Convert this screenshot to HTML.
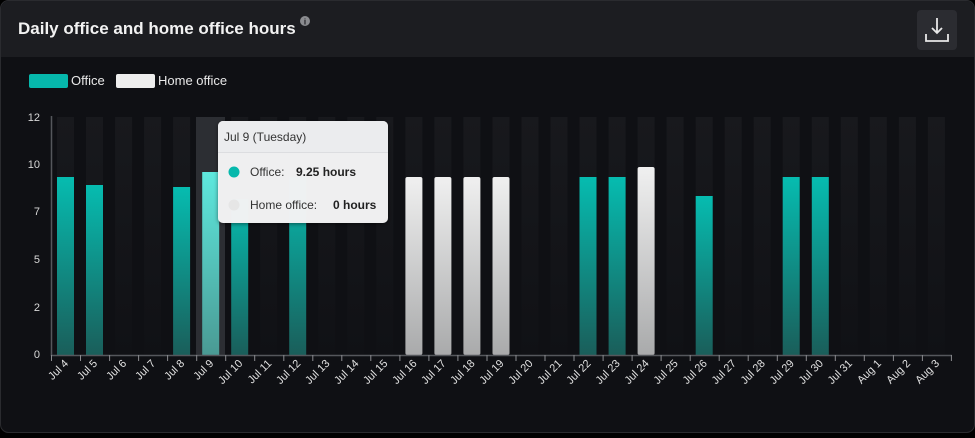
<!DOCTYPE html>
<html><head><meta charset="utf-8"><style>
body{margin:0;background:#000;width:975px;height:433px;overflow:hidden;font-family:"Liberation Sans",sans-serif}
</style></head><body>
<svg width="975" height="433" xmlns="http://www.w3.org/2000/svg" font-family="Liberation Sans, sans-serif">
<defs>
<linearGradient id="g" x1="0" y1="0" x2="0" y2="1"><stop offset="0" stop-color="#06bcb0"/><stop offset="1" stop-color="#1a5e5a"/></linearGradient>
<linearGradient id="gh" x1="0" y1="0" x2="0" y2="1"><stop offset="0" stop-color="#5ee9de"/><stop offset="1" stop-color="#4a9a94"/></linearGradient>
<linearGradient id="w" x1="0" y1="0" x2="0" y2="1"><stop offset="0" stop-color="#f0f0f0"/><stop offset="1" stop-color="#a9aaab"/></linearGradient>
<linearGradient id="bg" x1="0" y1="0" x2="0" y2="1"><stop offset="0" stop-color="#18191d"/><stop offset="1" stop-color="#101115"/></linearGradient>
<filter id="sh"><feDropShadow dx="0" dy="1" stdDeviation="2" flood-color="#000" flood-opacity="0.5"/></filter>
</defs>
<rect x="0.5" y="0.5" width="974" height="432" rx="8" fill="#0f1014" stroke="#2a2b2f"/>
<path d="M1 57 V9 a8 8 0 0 1 8 -8 H966 a8 8 0 0 1 8 8 V57 Z" fill="#1c1d21"/>
<text x="18" y="34" fill="#f2f2f2" font-size="17" font-weight="bold">Daily office and home office hours</text>
<circle cx="305" cy="21" r="5" fill="#8a8b8f"/><text x="305" y="24.5" fill="#1c1d21" font-size="8" font-weight="bold" text-anchor="middle">i</text>
<rect x="917" y="10" width="40" height="40" rx="4" fill="#2b2c31"/>
<path d="M937 18 V33 M932 28 L937 33 L942 28 M926 34 V41 H948 V34" stroke="#e8e8e8" stroke-width="1.8" fill="none"/>
<rect x="29" y="74" width="39" height="14" rx="2" fill="#06b8ac"/>
<text x="71" y="85" fill="#e8e8e8" font-size="13">Office</text>
<rect x="116" y="74" width="39" height="14" rx="2" fill="#eeeeee"/>
<text x="158" y="85" fill="#e8e8e8" font-size="13">Home office</text>
<g fill="url(#bg)">
<rect x="57" y="117" width="17" height="238"/><rect x="86" y="117" width="17" height="238"/><rect x="115.1" y="117" width="17" height="238"/><rect x="144.1" y="117" width="17" height="238"/><rect x="173.1" y="117" width="17" height="238"/><rect x="231.2" y="117" width="17" height="238"/><rect x="260.2" y="117" width="17" height="238"/><rect x="289.2" y="117" width="17" height="238"/><rect x="318.3" y="117" width="17" height="238"/><rect x="347.3" y="117" width="17" height="238"/><rect x="376.3" y="117" width="17" height="238"/><rect x="405.4" y="117" width="17" height="238"/><rect x="434.4" y="117" width="17" height="238"/><rect x="463.4" y="117" width="17" height="238"/><rect x="492.5" y="117" width="17" height="238"/><rect x="521.5" y="117" width="17" height="238"/><rect x="550.5" y="117" width="17" height="238"/><rect x="579.5" y="117" width="17" height="238"/><rect x="608.6" y="117" width="17" height="238"/><rect x="637.6" y="117" width="17" height="238"/><rect x="666.6" y="117" width="17" height="238"/><rect x="695.7" y="117" width="17" height="238"/><rect x="724.7" y="117" width="17" height="238"/><rect x="753.7" y="117" width="17" height="238"/><rect x="782.7" y="117" width="17" height="238"/><rect x="811.8" y="117" width="17" height="238"/><rect x="840.8" y="117" width="17" height="238"/><rect x="869.8" y="117" width="17" height="238"/><rect x="898.9" y="117" width="17" height="238"/><rect x="927.9" y="117" width="17" height="238"/>
</g>
<rect x="196" y="117" width="29" height="238" fill="#2c2e33"/>
<g fill="url(#g)">
<rect x="57" y="177" width="17" height="178"/><rect x="86" y="185" width="17" height="170"/><rect x="173.1" y="187" width="17" height="168"/><rect x="231.2" y="199" width="17" height="156"/><rect x="289.2" y="177" width="17" height="178"/><rect x="579.5" y="177" width="17" height="178"/><rect x="608.6" y="177" width="17" height="178"/><rect x="695.7" y="196" width="17" height="159"/><rect x="782.7" y="177" width="17" height="178"/><rect x="811.8" y="177" width="17" height="178"/>
</g>
<rect x="202.2" y="172" width="17" height="183" fill="url(#gh)"/>
<g fill="url(#w)">
<rect x="405.4" y="177" width="17" height="178" rx="2"/><rect x="434.4" y="177" width="17" height="178" rx="2"/><rect x="463.4" y="177" width="17" height="178" rx="2"/><rect x="492.5" y="177" width="17" height="178" rx="2"/><rect x="637.6" y="167" width="17" height="188" rx="2"/>
</g>
<g stroke="#55575c" stroke-width="1.5"><line x1="51.5" y1="116" x2="51.5" y2="356"/><line x1="51" y1="355.5" x2="952" y2="355.5"/></g>
<g stroke="#8a8b8f" stroke-width="1">
<path d="M51.5 355V361M80.5 355V361M109.6 355V361M138.6 355V361M167.6 355V361M196.7 355V361M225.7 355V361M254.7 355V361M283.8 355V361M312.8 355V361M341.8 355V361M370.8 355V361M399.9 355V361M428.9 355V361M457.9 355V361M487 355V361M516 355V361M545 355V361M574 355V361M603.1 355V361M632.1 355V361M661.1 355V361M690.2 355V361M719.2 355V361M748.2 355V361M777.3 355V361M806.3 355V361M835.3 355V361M864.3 355V361M893.4 355V361M922.4 355V361M951.4 355V361"/>
</g>
<g fill="#d8d8d8" font-size="11" text-anchor="end">
<text x="40" y="121">12</text><text x="40" y="168">10</text><text x="40" y="215">7</text><text x="40" y="263">5</text><text x="40" y="311">2</text><text x="40" y="358">0</text>
</g>
<g fill="#e0e0e0" font-size="11" text-anchor="end">
<text transform="translate(69,364) rotate(-45)">Jul 4</text><text transform="translate(98,364) rotate(-45)">Jul 5</text><text transform="translate(127.1,364) rotate(-45)">Jul 6</text><text transform="translate(156.1,364) rotate(-45)">Jul 7</text><text transform="translate(185.1,364) rotate(-45)">Jul 8</text><text transform="translate(214.2,364) rotate(-45)">Jul 9</text><text transform="translate(243.2,364) rotate(-45)">Jul 10</text><text transform="translate(272.2,364) rotate(-45)">Jul 11</text><text transform="translate(301.2,364) rotate(-45)">Jul 12</text><text transform="translate(330.3,364) rotate(-45)">Jul 13</text><text transform="translate(359.3,364) rotate(-45)">Jul 14</text><text transform="translate(388.3,364) rotate(-45)">Jul 15</text><text transform="translate(417.4,364) rotate(-45)">Jul 16</text><text transform="translate(446.4,364) rotate(-45)">Jul 17</text><text transform="translate(475.4,364) rotate(-45)">Jul 18</text><text transform="translate(504.5,364) rotate(-45)">Jul 19</text><text transform="translate(533.5,364) rotate(-45)">Jul 20</text><text transform="translate(562.5,364) rotate(-45)">Jul 21</text><text transform="translate(591.5,364) rotate(-45)">Jul 22</text><text transform="translate(620.6,364) rotate(-45)">Jul 23</text><text transform="translate(649.6,364) rotate(-45)">Jul 24</text><text transform="translate(678.6,364) rotate(-45)">Jul 25</text><text transform="translate(707.7,364) rotate(-45)">Jul 26</text><text transform="translate(736.7,364) rotate(-45)">Jul 27</text><text transform="translate(765.7,364) rotate(-45)">Jul 28</text><text transform="translate(794.7,364) rotate(-45)">Jul 29</text><text transform="translate(823.8,364) rotate(-45)">Jul 30</text><text transform="translate(852.8,364) rotate(-45)">Jul 31</text><text transform="translate(881.8,364) rotate(-45)">Aug 1</text><text transform="translate(910.9,364) rotate(-45)">Aug 2</text><text transform="translate(939.9,364) rotate(-45)">Aug 3</text>
</g>
<g filter="url(#sh)">
<rect x="218" y="121" width="170" height="102" rx="5" fill="#f4f4f5" opacity="0.97"/>
</g>
<path d="M218 152 V126 a5 5 0 0 1 5 -5 H383 a5 5 0 0 1 5 5 V152 Z" fill="#ebecee"/>
<line x1="218" y1="152.5" x2="388" y2="152.5" stroke="#dcdde0"/>
<text x="224" y="141" fill="#333" font-size="12">Jul 9 (Tuesday)</text>
<circle cx="234" cy="172" r="5.5" fill="#06b8ac"/>
<text x="250" y="176" fill="#333" font-size="12">Office:</text>
<text x="296" y="176" fill="#222" font-size="12" font-weight="bold">9.25 hours</text>
<circle cx="234" cy="205" r="5.5" fill="#e6e6e6"/>
<text x="250" y="209" fill="#333" font-size="12">Home office:</text>
<text x="333" y="209" fill="#222" font-size="12" font-weight="bold">0 hours</text>
</svg>
</body></html>
